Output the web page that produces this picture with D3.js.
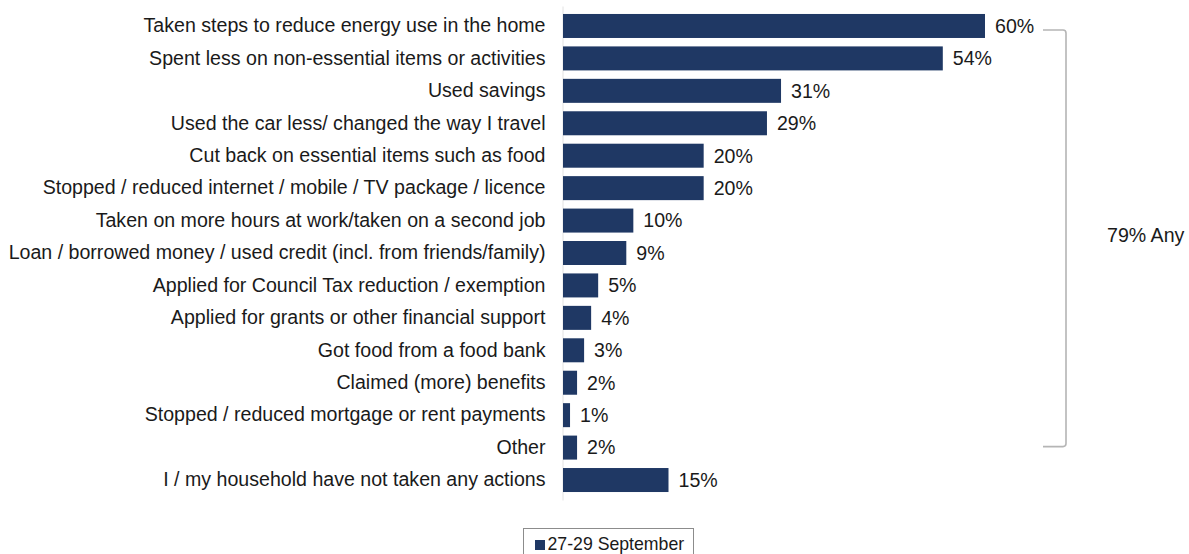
<!DOCTYPE html>
<html>
<head>
<meta charset="utf-8">
<script src="https://cdn.jsdelivr.net/npm/d3@7"></script>
<style>
  html, body { margin: 0; padding: 0; background: #fff; }
  svg { display: block; font-family: "Liberation Sans", Arial, sans-serif; }
</style>
</head>
<body>
<svg id="chart" width="1189" height="554"></svg>
<script>
// Actions taken in response to rising living costs (% of respondents)
const categories = [
  "Taken steps to reduce energy use in the home",
  "Spent less on non-essential items or activities",
  "Used savings",
  "Used the car less/ changed the way I travel",
  "Cut back on essential items such as food",
  "Stopped / reduced internet / mobile / TV package / licence",
  "Taken on more hours at work/taken on a second job",
  "Loan / borrowed money / used credit (incl. from friends/family)",
  "Applied for Council Tax reduction / exemption",
  "Applied for grants or other financial support",
  "Got food from a food bank",
  "Claimed (more) benefits",
  "Stopped / reduced mortgage or rent payments",
  "Other",
  "I / my household have not taken any actions"
];
const values = [60, 54, 31, 29, 20, 20, 10, 9, 5, 4, 3, 2, 1, 2, 15];
const seriesName = "27-29 September";
const anyActionLabel = "79% Any";
// the bracket groups every row that counts as "any action"
const bracketFirst = 0;
const bracketLast = 13;

const svg = d3.select("#chart");
const barColor = "#1f3864";
const fontSize = 19.6;

const x = d3.scaleLinear().domain([0, 60]).range([563, 985]);
const y = d3.scaleBand()
  .domain(categories)
  .range([6, 500])
  .paddingInner(0.26)
  .paddingOuter(0.246);

// category axis: faint vertical line, no ticks
const yAxis = d3.axisLeft(y).tickSize(0).tickPadding(17);
const gy = svg.append("g")
  .attr("transform", `translate(${x(0) - 0.5},0)`)
  .call(yAxis);
gy.select(".domain").attr("stroke", "#e2e2e2").attr("stroke-width", 1);
gy.selectAll(".tick text")
  .attr("fill", "#1a1a1a")
  .style("font-size", fontSize + "px")
  .style("font-family", "'Liberation Sans', Arial, sans-serif");

// bars
svg.append("g").selectAll("rect")
  .data(values)
  .join("rect")
  .attr("x", x(0))
  .attr("y", (d, i) => y(categories[i]))
  .attr("width", d => x(d) - x(0))
  .attr("height", y.bandwidth())
  .attr("fill", barColor);

// value labels
svg.append("g").selectAll("text")
  .data(values)
  .join("text")
  .attr("x", d => x(d) + 10)
  .attr("y", (d, i) => y(categories[i]) + y.bandwidth() / 2)
  .attr("dy", "0.35em")
  .attr("fill", "#1a1a1a")
  .style("font-size", fontSize + "px")
  .text(d => d + "%");

// bracket spanning the "any action" rows
const bTop = y(categories[bracketFirst]) + y.bandwidth() / 2 + 4;
const bBot = y(categories[bracketLast]) + y.bandwidth() / 2 - 1;
const bx0 = 1043, bx1 = 1066, r = 3;
const bracket = d3.path();
bracket.moveTo(bx0, bTop);
bracket.lineTo(bx1 - r, bTop);
bracket.quadraticCurveTo(bx1, bTop, bx1, bTop + r);
bracket.lineTo(bx1, bBot - r);
bracket.quadraticCurveTo(bx1, bBot, bx1 - r, bBot);
bracket.lineTo(bx0, bBot);
svg.append("path")
  .attr("d", bracket.toString())
  .attr("fill", "none")
  .attr("stroke", "#b5b5b5")
  .attr("stroke-width", 1.6);

svg.append("text")
  .attr("x", 1107)
  .attr("y", (bTop + bBot) / 2 - 3)
  .attr("dy", "0.35em")
  .attr("fill", "#1a1a1a")
  .style("font-size", fontSize + "px")
  .text(anyActionLabel);

// legend
const legend = svg.append("g").attr("transform", "translate(523,528)");
legend.append("rect")
  .attr("x", 0.5).attr("y", 0.5)
  .attr("width", 170).attr("height", 28)
  .attr("fill", "#fff")
  .attr("stroke", "#8c8c8c")
  .attr("stroke-width", 1);
legend.append("rect")
  .attr("x", 12).attr("y", 12)
  .attr("width", 10).attr("height", 10)
  .attr("fill", barColor);
legend.append("text")
  .attr("x", 24.5)
  .attr("y", 22)
  .attr("fill", "#1a1a1a")
  .style("font-size", "17.7px")
  .text(seriesName);
</script>
</body>
</html>
